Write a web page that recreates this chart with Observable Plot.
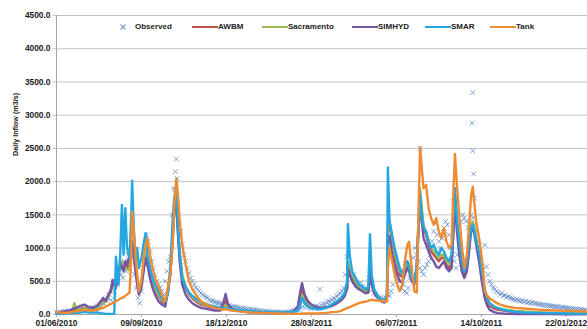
<!DOCTYPE html>
<html><head><meta charset="utf-8">
<script src="https://cdn.jsdelivr.net/npm/d3@7"></script>
<script src="https://cdn.jsdelivr.net/npm/@observablehq/plot@0.6"></script>
<style>
body{margin:0;background:#fff}
#wrap{position:relative;width:587px;height:329px;overflow:hidden;font-family:"Liberation Sans",Arial,sans-serif}
.lt{position:absolute;top:22px;font-size:8px;font-weight:bold;color:#222;line-height:10px;white-space:nowrap}
.ll{position:absolute;top:26px;height:2.4px;width:26px}
</style></head><body><div id="wrap"></div>
<script>
// ---- data ----
const startLabel = "01/06/2010";
const xTickLabels = ["01/06/2010","09/09/2010","18/12/2010","28/03/2011","06/07/2011","14/10/2011","22/01/2012"];
const yTicks = [0,500,1000,1500,2000,2500,3000,3500,4000,4500];
const seriesNames = ["Observed","AWBM","Sacramento","SIMHYD","SMAR","Tank"];
const seriesColors = ["#5784c4","#c0504d","#9bbb59","#7356a6","#22a7e0","#ee8c34"];

// model outputs: days since 01/06/2010
const modelDays = [0,5,10,15,19,21,23,28,33,38,
43,48,52,55,58,61,64,66,68,70,
71,73,75,77,79,81,83,86,88,89,
91,93,95,97,100,103,105,107,110,113,
116,120,124,128,131,134,137,139,141,143,
145,148,152,156,160,165,170,178,186,193,
197,199,202,206,212,220,230,240,250,260,
270,278,284,287,289,292,296,300,306,312,
318,324,330,335,339,342,343,345,348,352,
356,360,364,367,369,371,374,378,382,386,
389,390,392,395,398,401,404,407,410,413,
415,418,421,424,426,428,430,432,435,438,
441,444,447,450,453,456,459,462,465,467,
469,471,474,477,480,483,486,488,490,492,
494,496,498,500,502,504,507,510,515,520,
530,540,550,565,580,600,625];

const awbm = [35,30,35,45,60,80,70,80,100,90,
80,110,160,200,220,280,380,480,430,480,
560,620,720,780,720,760,700,750,950,1050,
880,680,500,380,480,720,880,780,620,480,
380,280,200,160,330,620,1250,1600,1780,1250,
900,560,400,300,240,190,150,120,100,85,
150,200,110,80,65,50,40,33,28,25,
26,35,90,250,380,230,160,125,100,95,
105,130,170,210,270,380,750,650,550,460,
400,360,330,340,680,480,340,260,210,190,
270,1250,1350,1100,900,750,600,560,660,760,
720,570,480,680,1350,1800,1550,1300,1200,1050,
950,900,850,800,850,860,760,700,760,1250,
1750,1400,1050,760,600,700,1050,1300,1350,1250,
1100,950,800,600,450,300,190,130,90,70,
50,38,30,24,20,16,13];

const sacramento = [30,30,40,50,80,170,90,70,90,80,
80,100,150,180,200,250,350,500,450,500,
550,600,700,800,750,700,680,670,900,1000,
850,700,550,400,500,750,900,800,650,500,
400,300,220,180,350,650,1300,1650,1800,1300,
950,600,420,320,260,210,170,130,110,95,
120,140,100,85,70,55,45,38,32,28,
28,35,80,200,300,200,150,120,100,100,
110,140,180,220,280,400,800,700,600,500,
420,380,350,360,700,500,350,270,220,200,
280,1300,1420,1150,950,800,650,600,700,800,
750,600,500,700,1400,1900,1600,1350,1250,1100,
1000,950,900,850,900,900,800,750,800,1300,
1800,1450,1100,800,650,750,1100,1350,1400,1300,
1150,1000,850,650,500,330,220,160,120,95,
70,55,45,35,28,22,18];

const simhyd = [30,40,50,60,80,90,100,130,150,110,
100,130,200,250,200,300,350,520,450,400,
500,650,780,700,650,800,750,900,1050,1100,
900,650,450,300,400,700,850,750,550,400,
300,200,150,120,350,600,1200,1600,1750,1200,
800,450,300,220,170,130,100,80,60,60,
200,308,150,90,60,40,30,25,20,20,
25,40,120,350,470,300,200,150,110,100,
110,130,170,220,280,400,700,600,500,420,
380,350,320,330,650,450,320,250,200,180,
250,1200,1170,900,750,600,500,480,600,700,
650,500,450,700,1300,1600,1400,1150,1050,950,
850,800,720,700,750,800,700,650,700,1200,
1700,1300,900,650,550,650,1000,1250,1300,1200,
1050,900,750,550,400,250,130,70,35,20,
10,8,6,5,5,4,4];

const smar = [20,15,15,20,25,30,25,30,40,30,
30,30,20,15,10,10,10,10,10,870,
700,450,900,1650,900,1600,1000,850,1500,2015,
1300,800,1000,700,850,1100,1225,900,700,550,
450,350,250,200,300,700,1500,1800,1950,1300,
900,550,420,330,280,230,190,150,120,100,
95,95,85,80,70,60,50,40,35,30,
30,40,60,150,250,180,120,100,80,80,
100,150,200,250,320,500,1360,900,650,550,
450,420,380,400,1210,600,380,280,220,200,
300,2215,1400,1200,1000,850,700,600,750,800,
700,550,500,700,1200,1800,1500,1300,1250,1100,
1000,1050,950,900,1000,950,850,800,900,1400,
1900,1500,1100,800,650,800,1100,1300,1350,1250,
1100,1000,900,700,550,380,250,170,120,90,
60,40,30,25,20,15,12];

const tank = [40,30,25,30,40,50,45,60,70,60,
60,70,90,100,120,140,160,170,180,200,
210,220,240,250,260,280,300,330,900,1550,
1250,900,600,350,500,900,1050,1150,900,700,
550,420,300,200,400,600,1100,1700,2040,1800,
1400,1050,750,500,380,280,200,140,100,80,
75,80,70,60,50,40,30,25,20,15,
12,10,10,12,15,15,15,15,15,20,
25,35,40,55,80,95,100,110,130,150,
170,185,195,205,215,220,215,210,205,200,
200,700,1000,800,600,450,350,450,800,1050,
1095,700,350,330,1500,2515,2200,1900,1950,1600,
1450,1350,1450,1250,1150,1300,1100,1000,1050,1800,
2415,2000,1500,1050,700,900,1400,1800,1925,1650,
1400,1250,1100,900,700,350,280,240,200,160,
120,100,90,75,65,55,45];

// observed inflow, every second day from 01/06/2010
const observed = [30,25,40,20,35,50,30,45,60,40,55,80,50,70,90,60,75,100,80,65,90,110,85,100,130,150,120,180,160,220,
250,300,220,400,350,500,450,700,600,550,800,650,900,750,1000,850,600,400,250,170,
350,700,1000,1200,1100,950,800,700,600,500,450,400,350,300,500,650,800,870,1500,1900,
2150,1700,1400,1250,1050,900,800,700,620,550,500,450,400,380,350,320,300,280,260,250,
220,200,210,190,180,170,175,160,150,155,140,130,135,120,115,110,115,100,95,90,95,85,80,75,80,70,65,70,60,55,
55,50,45,50,40,45,35,40,30,35,40,30,35,25,30,35,30,40,45,50,60,55,70,80,100,120,150,130,110,100,
90,110,100,130,120,380,140,160,150,180,200,190,220,250,230,280,300,320,350,400,
600,870,750,650,550,600,500,450,400,480,420,380,350,400,550,450,380,320,300,280,
260,250,240,220,250,300,280,350,450,820,700,600,500,400,450,350,320,400,550,700,
850,1000,900,800,700,650,600,700,750,800,900,1100,1250,1370,1200,1100,1000,1150,1300,1400,
1350,1200,1000,900,800,700,900,1200,1400,1500,1450,1400,1300,1370,1500,1450,1350,1250,1100,950,
800,670,1045,720,600,500,450,400,380,350,330,300,320,280,290,260,270,250,240,230,
220,230,210,200,210,190,200,180,190,170,180,165,170,160,150,155,140,150,135,140,130,125,130,120,115,120,110,105,110,100,
95,100,90,85,90,80,75,80,70,75,65,70,60];
// extra observed points on peak days
const observedPeakDays = [139,141,142,428,467,469,489,490,490,491,492];
const observedPeakValues = [1875,2340,2050,2500,1700,1900,2880,3340,2465,2115,1750];

// ---- build ----
const parse = d3.utcParse("%d/%m/%Y");
const start = parse(startLabel);
const toDate = t => d3.utcDay.offset(start, t);
const xTicks = xTickLabels.map(parse);
const endDate = toDate(625);

const obsData = observed.map((v, i) => ({date: toDate(i * 2), v}))
  .concat(observedPeakDays.map((t, i) => ({date: toDate(t), v: observedPeakValues[i]})));
const modelSeries = [awbm, sacramento, simhyd, smar, tank];
const modelData = modelSeries.map(arr => arr.map((v, i) => ({date: toDate(modelDays[i]), v})).filter(d => d.v != null));

const fmtDate = d3.utcFormat("%d/%m/%Y");

const chart = Plot.plot({
  width: 587, height: 329,
  marginLeft: 56, marginRight: 0, marginTop: 15, marginBottom: 15,
  x: {type: "utc", domain: [start, endDate]},
  y: {domain: [0, 4500]},
  style: {fontFamily: "'Liberation Sans', Arial, sans-serif", background: "#fff", color: "#222", overflow: "hidden"},
  marks: [
    Plot.ruleY(yTicks, {y: d => d, x1: d3.utcDay.offset(start, -4), x2: endDate, stroke: "#c4c4c4", strokeWidth: 1}),
    Plot.ruleX([start], {stroke: "#a6a6a6", strokeWidth: 1}),
    Plot.ruleY([0], {stroke: "#a6a6a6", strokeWidth: 1}),
    Plot.axisY({ticks: yTicks, tickFormat: d3.format(".1f"), tickSize: 0, tickPadding: 6, fontSize: 8.4, fontWeight: "bold", label: null}),
    Plot.axisX({ticks: xTicks, tickFormat: fmtDate, tickSize: 3, tickPadding: 2.5, fontSize: 8.4, fontWeight: "bold", label: null, stroke: "#a6a6a6"}),
    Plot.text(["Daily Inflow (m3/s)"], {frameAnchor: "left", dx: -41, dy: -9, rotate: -90, fontSize: 7.2, fontWeight: "bold", fill: "#222"}),
    Plot.dot(obsData, {x: "date", y: "v", symbol: "times", r: 2.3, stroke: seriesColors[0], strokeWidth: 1, strokeOpacity: 0.75}),
    ...modelData.map((d, i) => Plot.line(d, {x: "date", y: "v", stroke: seriesColors[i + 1], strokeWidth: 2.4, strokeLinejoin: "round"}))
  ]
});

const wrap = document.getElementById("wrap");
wrap.appendChild(chart);

// legend overlay (inside plot, top)
const lineLefts = [192, 262, 352, 425, 490];
let html = `<svg style="position:absolute;left:119px;top:23px" width="8" height="8"><path d="M1.5,1.5L6.5,6.5M6.5,1.5L1.5,6.5" stroke="${seriesColors[0]}" stroke-width="1.1" stroke-opacity="0.8"/></svg>`;
html += `<div class="lt" style="left:135px">${seriesNames[0]}</div>`;
lineLefts.forEach((l, i) => {
  html += `<div class="ll" style="left:${l}px;background:${seriesColors[i + 1]}"></div>`;
  html += `<div class="lt" style="left:${l + 26}px">${seriesNames[i + 1]}</div>`;
});
const leg = document.createElement("div");
leg.innerHTML = html;
wrap.appendChild(leg);
</script></body></html>
